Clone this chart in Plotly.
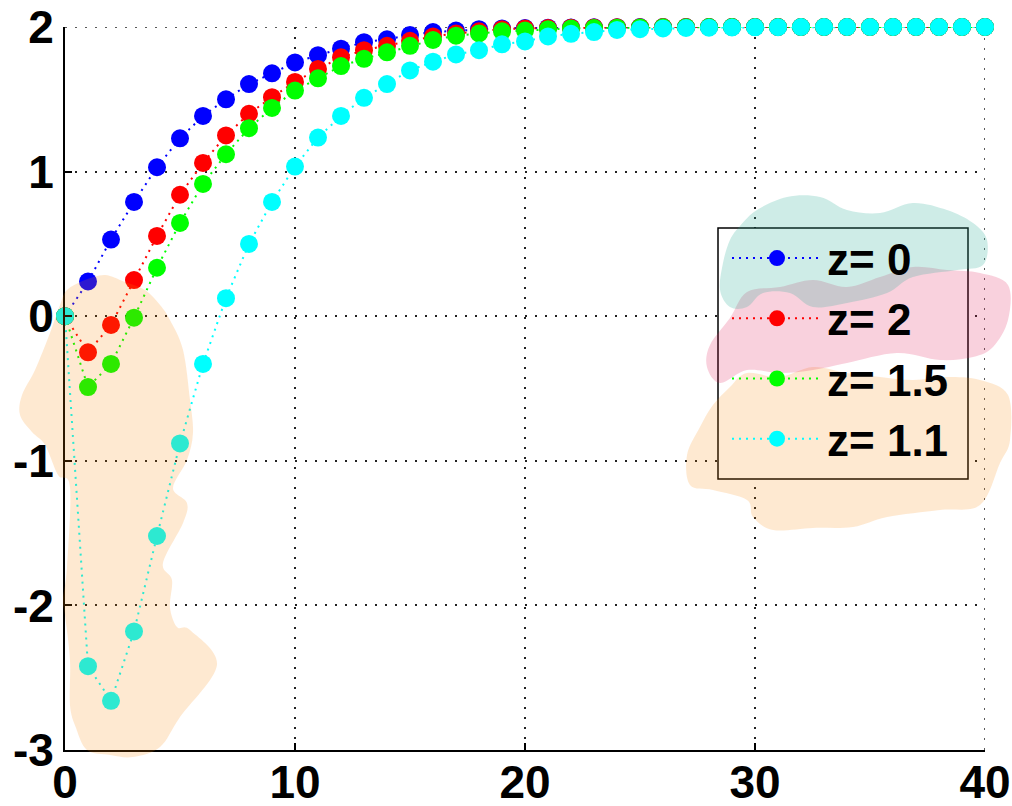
import plotly.graph_objects as go

# ---------------- data ----------------
x_vals = list(range(0, 41))
labels = ["z= 0", "z= 2", "z= 1.5", "z= 1.1"]
colors = ["#0000FF", "#FF0000", "#00FF00", "#00FFFF"]

y_z0 = [0, 0.24, 0.53, 0.79, 1.03, 1.23, 1.385, 1.50, 1.605, 1.68, 1.755,
        1.805, 1.85, 1.895, 1.915, 1.945, 1.965, 1.975, 1.985, 1.99, 1.993,
        1.995, 1.997, 1.998, 1.999, 2.0, 2.0, 2.0, 2.0, 2.0, 2.0,
        2.0, 2.0, 2.0, 2.0, 2.0, 2.0, 2.0, 2.0, 2.0, 2.0]
y_z2 = [0, -0.25, -0.06, 0.25, 0.555, 0.84, 1.06, 1.25, 1.40, 1.515, 1.62,
        1.71, 1.79, 1.84, 1.87, 1.905, 1.935, 1.955, 1.97, 1.985, 1.99,
        1.993, 1.995, 1.997, 1.998, 1.999, 2.0, 2.0, 2.0, 2.0, 2.0,
        2.0, 2.0, 2.0, 2.0, 2.0, 2.0, 2.0, 2.0, 2.0, 2.0]
y_z15 = [0, -0.49, -0.33, -0.01, 0.335, 0.645, 0.915, 1.12, 1.30, 1.44, 1.56,
         1.645, 1.73, 1.78, 1.825, 1.87, 1.91, 1.94, 1.955, 1.97, 1.975,
         1.985, 1.99, 1.993, 1.995, 1.997, 1.998, 1.999, 2.0, 2.0, 2.0,
         2.0, 2.0, 2.0, 2.0, 2.0, 2.0, 2.0, 2.0, 2.0, 2.0]
y_z11 = [0, -2.42, -2.66, -2.18, -1.52, -0.88, -0.33, 0.125, 0.50, 0.79, 1.035,
         1.235, 1.385, 1.51, 1.605, 1.70, 1.76, 1.81, 1.84, 1.88, 1.90,
         1.935, 1.953, 1.965, 1.98, 1.985, 1.99, 1.993, 1.995, 1.997, 1.998,
         1.999, 2.0, 2.0, 2.0, 2.0, 2.0, 2.0, 2.0, 2.0, 2.0]
series = [y_z0, y_z2, y_z15, y_z11]

x_ticks = [0, 10, 20, 30, 40]
y_ticks = [-3, -2, -1, 0, 1, 2]

# ---------------- layout geometry (page pixels) ----------------
W, H = 1012, 806
PLOT_X0, PLOT_X1, PLOT_Y0, PLOT_Y1 = 65, 985, 27, 750   # plot area on the page
L, R, T, B = PLOT_X0, W - PLOT_X1, PLOT_Y0, H - PLOT_Y1
PW, PH = PLOT_X1 - PLOT_X0, PLOT_Y1 - PLOT_Y0


def px2paper(px, py):
    return (px - PLOT_X0) / PW, (PLOT_Y1 - py) / PH


def smooth_path(pts):
    """Closed Catmull-Rom spline through page-pixel points, in paper coords."""
    p = [px2paper(a, b) for a, b in pts]
    n = len(p)
    d = "M{:.4f},{:.4f}".format(*p[0])
    for i in range(n):
        p0, p1, p2, p3 = p[i - 1], p[i], p[(i + 1) % n], p[(i + 2) % n]
        c1 = (p1[0] + (p2[0] - p0[0]) / 6, p1[1] + (p2[1] - p0[1]) / 6)
        c2 = (p2[0] - (p3[0] - p1[0]) / 6, p2[1] - (p3[1] - p1[1]) / 6)
        d += " C{:.4f},{:.4f} {:.4f},{:.4f} {:.4f},{:.4f}".format(*c1, *c2, *p2)
    return d + " Z"


# highlight blobs (page-pixel outlines)
orange_left = [(67, 290), (85, 280), (105, 275), (125, 282), (145, 290), (160, 305),
               (170, 320), (183, 350), (190, 400), (193, 433), (187, 460), (173, 488),
               (187, 503), (183, 523), (163, 563), (172, 580), (170, 607), (177, 627),
               (190, 630), (217, 665), (180, 717), (160, 747), (133, 757), (110, 755),
               (87, 750), (76, 728), (70, 705), (70, 660), (65, 615), (63, 600),
               (67, 567), (70, 487), (58, 475), (45, 445), (32, 432), (20, 415),
               (22, 395), (35, 370), (50, 333), (60, 305)]
orange_right = [(687, 455), (700, 427), (713, 405), (730, 387), (747, 373), (780, 377),
                (813, 367), (847, 373), (880, 377), (913, 380), (947, 377), (980, 380),
                (1008, 395), (1010, 440), (1000, 463), (980, 505), (940, 510), (887, 517),
                (853, 527), (813, 528), (773, 530), (753, 517), (747, 500), (713, 490),
                (690, 485)]
pink = [(730, 318), (747, 292), (780, 287), (813, 280), (847, 287), (880, 277),
        (913, 267), (947, 270), (980, 273), (1008, 285), (1008, 320), (993, 347),
        (973, 357), (940, 360), (897, 353), (847, 363), (813, 370), (780, 373),
        (747, 370), (720, 383), (707, 367), (710, 345)]
teal = [(730, 240), (740, 226), (757, 210), (787, 197), (820, 197), (847, 210),
        (880, 213), (913, 203), (947, 210), (973, 223), (987, 240), (983, 265),
        (957, 270), (913, 277), (887, 293), (847, 303), (813, 307), (790, 293),
        (763, 293), (747, 307), (730, 307), (720, 290), (723, 263)]

GRID_DASH = "2px,8px"
GRID_COL = "#222222"

# ---------------- figure ----------------
fig = go.Figure()
for ys, name, col in zip(series, labels, colors):
    fig.add_trace(go.Scatter(
        x=x_vals, y=ys, name=name, mode="lines+markers",
        line=dict(color=col, width=2, dash="2px,5px"),
        marker=dict(color=col, size=18, symbol="circle", line=dict(width=0)),
        cliponaxis=False,
    ))

lx0, ly0 = px2paper(718, 228)
lx1, ly1 = px2paper(968, 479)

shapes = [
    # edge grid lines (plotly hides gridlines sitting on the plot border)
    dict(type="line", xref="x", yref="y", x0=x_ticks[0], x1=x_ticks[-1],
         y0=y_ticks[-1], y1=y_ticks[-1], layer="below",
         line=dict(color=GRID_COL, width=1.5, dash=GRID_DASH)),
    dict(type="line", xref="x", yref="y", x0=x_ticks[-1], x1=x_ticks[-1],
         y0=y_ticks[0], y1=y_ticks[-1], layer="below",
         line=dict(color=GRID_COL, width=1.5, dash=GRID_DASH)),
    # legend box
    dict(type="rect", xref="paper", yref="paper", x0=lx0, y0=ly1, x1=lx1, y1=ly0,
         fillcolor="white", line=dict(color="black", width=1.5), layer="above"),
]
for pts, fc in [(orange_left, "rgba(250,133,0,0.18)"),
                (orange_right, "rgba(250,133,0,0.18)"),
                (pink, "rgba(225,25,85,0.20)"),
                (teal, "rgba(43,174,152,0.23)")]:
    shapes.append(dict(type="path", xref="paper", yref="paper", path=smooth_path(pts),
                       fillcolor=fc, line=dict(width=0), layer="above"))

tick_font = dict(family="Liberation Sans", size=46, color="black", weight="bold")

fig.update_layout(
    width=W, height=H,
    margin=dict(l=L, r=R, t=T, b=B, pad=0, autoexpand=False),
    paper_bgcolor="white", plot_bgcolor="white",
    showlegend=True,
    legend=dict(
        x=px2paper(727, 0)[0], y=px2paper(0, 223)[1], xanchor="left", yanchor="top",
        bgcolor="rgba(0,0,0,0)", borderwidth=0,
        font=dict(family="Liberation Sans", size=44, color="black", weight="bold"),
        itemwidth=90, tracegroupgap=0,
    ),
    shapes=shapes,
    xaxis=dict(
        range=[0, 40], tickvals=x_ticks, ticktext=[str(v) for v in x_ticks],
        showline=True, linecolor="black", linewidth=2, mirror=False,
        ticks="inside", ticklen=7, tickwidth=1.5, tickcolor="black",
        showgrid=True, gridcolor=GRID_COL, gridwidth=1.5, griddash=GRID_DASH,
        zeroline=False, tickfont=tick_font, ticklabelstandoff=-9, automargin=False,
        ticklabeloverflow="allow",
    ),
    yaxis=dict(
        range=[-3, 2], tickvals=y_ticks, ticktext=[str(v) for v in y_ticks],
        showline=True, linecolor="black", linewidth=2, mirror=False,
        ticks="inside", ticklen=7, tickwidth=1.5, tickcolor="black",
        showgrid=True, gridcolor=GRID_COL, gridwidth=1.5, griddash=GRID_DASH,
        zeroline=False, tickfont=tick_font, ticklabelstandoff=0, automargin=False,
        ticklabeloverflow="allow",
    ),
)

fig.write_html(
    "out.html",
    config={"displayModeBar": False},
    post_script="document.body.style.margin='0';document.body.style.overflow='hidden';",
)
